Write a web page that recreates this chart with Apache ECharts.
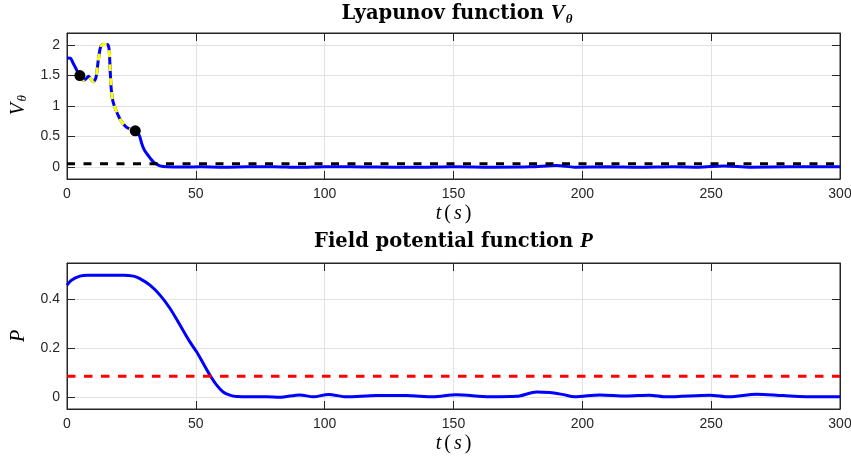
<!DOCTYPE html>
<html>
<head>
<meta charset="utf-8">
<script src="https://cdn.jsdelivr.net/npm/echarts@6/dist/echarts.min.js"></script>
<style>
  html, body { margin: 0; padding: 0; background: #fff; }
  #chart { width: 851px; height: 461px; }
</style>
</head>
<body>
<div id="chart"></div>
<script>
// Tick positions
const timeTicks = [0, 50, 100, 150, 200, 250, 300];
const vTicks = [0, 0.5, 1, 1.5, 2];
const pTicks = [0, 0.2, 0.4];

// Lyapunov function V_theta over time
const vTime = [0, 1.3, 2.2, 3.1, 4.0, 5.0, 6.3, 7.4, 8.3, 9.2, 10.2, 11.25, 12.15, 13.06, 14.1, 15.6,
  16.3, 16.7, 17.1, 17.7, 19.0, 20.8, 22.9, 24.8, 26.5, 28.0, 29.0, 29.9, 30.9, 32.2, 33.5, 34.8,
  36.1, 38.7, 45, 52, 60, 70, 80, 90, 100, 110, 120, 135, 150, 165, 180, 190, 197, 210, 222, 235,
  245, 255, 265, 280, 300];
const vValue = [1.788, 1.785, 1.72, 1.645, 1.57, 1.5, 1.426, 1.447, 1.49, 1.447, 1.398, 1.47, 1.755, 1.974, 2.013, 2.013,
  1.947, 1.64, 1.316, 1.097, 0.93, 0.768, 0.658, 0.615, 0.592, 0.521, 0.385, 0.286, 0.22, 0.148, 0.082, 0.044,
  0.016, 0.0, -0.004, 0.0, -0.005, 0.0, 0.003, -0.008, 0.002, 0.0, -0.004, -0.008, 0.002, -0.005, 0.0, 0.02, -0.005, 0.0, -0.008, 0.0,
  -0.005, 0.012, -0.005, 0.0, 0.0];
const vThreshold = 0.05;
// Interval drawn with the yellow dashed overlay, marked by the two dots
const markTimes = [5.0, 26.5];

// Field potential function P over time
const pTime = [0, 1.7, 5, 8, 15, 22, 25.8, 28.3, 32.2, 36.1, 40, 43.9, 47.7, 50.3, 52.9, 55.5, 58.1,
  60.6, 63.2, 65.8, 71, 77.4, 82.6, 90.4, 95.6, 101.5, 108.5, 120, 131.8, 142, 151, 164, 174.5, 182.3,
  187.4, 192.6, 197, 206.8, 217, 226, 232.7, 249.5, 257, 267.6, 278, 291, 300];
const pValue = [0.459, 0.479, 0.496, 0.5, 0.5, 0.5, 0.496, 0.486, 0.459, 0.418, 0.363, 0.294, 0.226, 0.185, 0.137, 0.089, 0.048,
  0.02, 0.007, 0.001, 0.0, 0.0, -0.002, 0.008, 0.0, 0.01, 0.0, 0.005, 0.005, 0.0, 0.009, 0.0, 0.002, 0.02,
  0.018, 0.009, 0.0, 0.008, 0.003, 0.007, 0.0, 0.007, 0.0, 0.011, 0.005, 0.0, 0.0];
const pThreshold = 0.085;

const vData = vTime.map((t, i) => [t, vValue[i]]);
const pData = pTime.map((t, i) => [t, pValue[i]]);
const vHighlight = vData.filter(d => d[0] >= markTimes[0] && d[0] <= markTimes[1]);
const vDots = vData.filter(d => markTimes.includes(d[0]));

const INK = '#262626';
const GRID = '#e2e2e2';
const SERIF = "'Liberation Serif', 'DejaVu Serif', serif";
const WIDE_SERIF = "'DejaVu Serif', 'Liberation Serif', serif";
const SANS = "'Liberation Sans', Arial, Helvetica, sans-serif";

const mathRich = {
  i: { fontFamily: SERIF, fontStyle: 'italic', fontSize: 20, color: '#000', padding: [0, 1.5] },
  n: { fontFamily: SERIF, fontSize: 20, color: '#000', padding: [0, 1.5] },
  s: { fontFamily: SERIF, fontStyle: 'italic', fontSize: 13, color: '#000', verticalAlign: 'bottom' }
};
const titleRich = {
  b: { fontFamily: WIDE_SERIF, fontWeight: 'bold', fontSize: 19.5, color: '#000', lineHeight: 24 },
  i: { fontFamily: SERIF, fontStyle: 'italic', fontSize: 21, color: '#000', lineHeight: 24, padding: [0, 1, 0, 0] },
  s: { fontFamily: SERIF, fontStyle: 'italic', fontSize: 13, color: '#000', verticalAlign: 'bottom' }
};

const axisLineStyle = { show: true, onZero: false, lineStyle: { color: INK, width: 1 } };

function mainX(gridIndex) {
  return {
    type: 'value', gridIndex, min: 0, max: 300, position: 'bottom',
    name: '{i|t}{n|(}{i|s}{n|)}', nameLocation: 'middle', nameGap: 25,
    nameTextStyle: { rich: mathRich },
    axisLine: axisLineStyle,
    axisTick: { show: true, inside: true, length: 8, customValues: timeTicks, lineStyle: { color: INK } },
    axisLabel: { show: true, margin: 8, customValues: timeTicks, color: INK, fontFamily: SANS, fontSize: 14 },
    splitLine: { show: true, lineStyle: { color: GRID, width: 1 } }
  };
}
function mirrorX(gridIndex) {
  return {
    type: 'value', gridIndex, min: 0, max: 300, position: 'top',
    axisLine: axisLineStyle,
    axisTick: { show: true, inside: true, length: 8, customValues: timeTicks, lineStyle: { color: INK } },
    axisLabel: { show: false },
    splitLine: { show: false }
  };
}
function mainY(gridIndex, min, max, ticks, name) {
  return {
    type: 'value', gridIndex, min, max, position: 'left',
    name, nameLocation: 'middle', nameGap: 38, nameRotate: 90,
    nameTextStyle: { rich: mathRich },
    axisLine: axisLineStyle,
    axisTick: { show: true, inside: true, length: 8, customValues: ticks, lineStyle: { color: INK } },
    axisLabel: { show: true, margin: 7, customValues: ticks, color: INK, fontFamily: SANS, fontSize: 14 },
    splitLine: { show: true, lineStyle: { color: GRID, width: 1 } }
  };
}
function mirrorY(gridIndex, min, max, ticks) {
  return {
    type: 'value', gridIndex, min, max, position: 'right',
    axisLine: axisLineStyle,
    axisTick: { show: true, inside: true, length: 8, customValues: ticks, lineStyle: { color: INK } },
    axisLabel: { show: false },
    splitLine: { show: false }
  };
}

const chart = echarts.init(document.getElementById('chart'), null, { renderer: 'canvas' });
chart.setOption({
  animation: false,
  backgroundColor: '#fff',
  title: [
    { text: '{b|Lyapunov function }{i|V}{s|θ}', left: 457, top: 2, textAlign: 'center', padding: 0,
      textStyle: { rich: titleRich } },
    { text: '{b|Field potential function }{i|P}', left: 454, top: 230, textAlign: 'center', padding: 0,
      textStyle: { rich: titleRich } }
  ],
  grid: [
    { left: 67, top: 33, width: 773, height: 146, show: true, borderColor: INK, borderWidth: 1,
      backgroundColor: '#fff', outerBoundsMode: 'none' },
    { left: 67, top: 263, width: 773, height: 146, show: true, borderColor: INK, borderWidth: 1,
      backgroundColor: '#fff', outerBoundsMode: 'none' }
  ],
  xAxis: [mainX(0), mirrorX(0), mainX(1), mirrorX(1)],
  yAxis: [
    mainY(0, -0.2, 2.2, vTicks, '{i|V}{s|θ}'),
    mirrorY(0, -0.2, 2.2, vTicks),
    mainY(1, -0.05, 0.55, pTicks, '{i|P}'),
    mirrorY(1, -0.05, 0.55, pTicks)
  ],
  series: [
    { type: 'line', xAxisIndex: 0, yAxisIndex: 0, data: vData, smooth: 0.3, showSymbol: false,
      lineStyle: { color: '#0000ff', width: 3 }, z: 2 },
    { type: 'line', xAxisIndex: 0, yAxisIndex: 0, data: vHighlight, smooth: 0.3, showSymbol: false,
      lineStyle: { color: '#ffff00', width: 3, type: [7, 7] }, z: 3 },
    { type: 'scatter', xAxisIndex: 0, yAxisIndex: 0, data: vDots, symbol: 'circle', symbolSize: 11,
      itemStyle: { color: '#000', opacity: 1 }, z: 4 },
    { type: 'line', xAxisIndex: 0, yAxisIndex: 0, data: [[0, vThreshold], [300, vThreshold]], showSymbol: false,
      lineStyle: { color: '#000', width: 3, type: [8, 8.5] }, z: 5 },
    { type: 'line', xAxisIndex: 2, yAxisIndex: 2, data: pData, smooth: 0.3, showSymbol: false,
      lineStyle: { color: '#0000ff', width: 3 }, z: 2 },
    { type: 'line', xAxisIndex: 2, yAxisIndex: 2, data: [[0, pThreshold], [300, pThreshold]], showSymbol: false,
      lineStyle: { color: '#ff0000', width: 3, type: [8.5, 8.5] }, z: 5 }
  ]
});
</script>
</body>
</html>
